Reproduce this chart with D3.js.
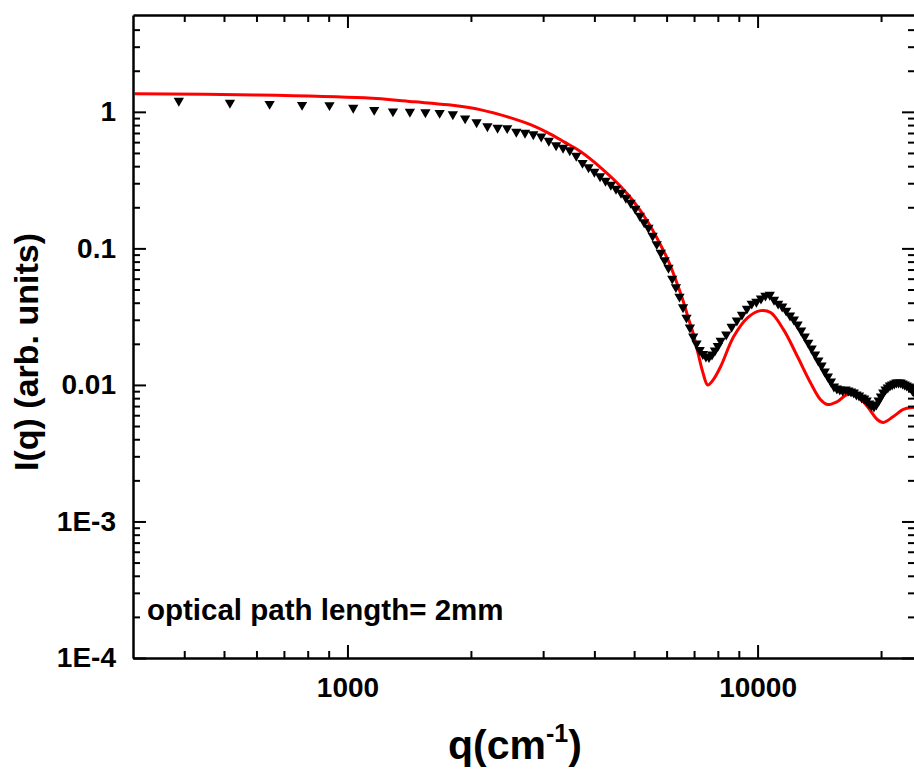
<!DOCTYPE html>
<html lang="en">
<head>
<meta charset="utf-8">
<title>I(q) vs q</title>
<script src="https://d3js.org/d3.v7.min.js"></script>
<style>
  body { margin: 0; background: #fff; }
  svg { display: block; font-family: "Liberation Sans", Arial, sans-serif; font-weight: bold; }
</style>
</head>
<body>
<script>
// fit curve (red line)
const fitQ = [303, 594, 1100, 1455, 1762, 2118, 2547, 2805, 3084, 3373, 3707, 4150, 4643, 4992, 5398,
  5712, 6040, 6315, 6570, 6761, 6955, 7152, 7356, 7557, 7778, 8128, 8745, 9462, 10166, 10759, 11570,
  12510, 13450, 14230, 14800, 15660, 16560, 17510, 18520, 19580, 20260, 21430, 22660, 23960, 24300];
const fitI = [1.354, 1.331, 1.266, 1.184, 1.125, 1.034, 0.889, 0.803, 0.702, 0.603, 0.510, 0.389, 0.283, 0.2196, 0.1567,
  0.1158, 0.0827, 0.0590, 0.0421, 0.0316, 0.0242, 0.01725, 0.01233, 0.0100, 0.0108, 0.01364, 0.0226, 0.0311, 0.0350, 0.0339, 0.0254,
  0.01614, 0.01042, 0.00782, 0.00719, 0.00756, 0.00851, 0.00823, 0.00695, 0.00558, 0.00531, 0.00587, 0.00661, 0.00684, 0.00686];

// measured data (triangles)
const dataQ = [388, 517, 646, 775, 904, 1033, 1162, 1291, 1420, 1549, 1678, 1807, 1936, 2065, 2194, 2323, 2452, 2581, 2710,
  2839, 2968, 3097, 3226, 3355, 3484, 3613, 3742, 3871, 4000, 4129, 4258, 4387, 4516, 4645, 4774, 4903, 5032, 5161, 5290,
  5419, 5548, 5677, 5806, 5935, 6064, 6193, 6322, 6451, 6580, 6709, 6838, 6967, 7096, 7225, 7354, 7483, 7612, 7741, 7870,
  7999, 8128,
  8386, 8644, 8902, 9160, 9418, 9676, 9934, 10192, 10450, 10708, 10966, 11224, 11482, 11740, 11998, 12256, 12514, 12772,
  13030, 13288, 13546, 13804, 14062, 14320, 14578, 14836, 15094, 15352, 15610, 15868, 16126, 16384, 16642, 16900, 17158,
  17416, 17674, 17932, 18190, 18448, 18706, 18964, 19222, 19480, 19738, 19996, 20254, 20512, 20770, 21028, 21286, 21544,
  21802, 22060, 22318, 22576, 22834, 23092, 23350, 23608, 23866, 24124];
const dataI = [1.204, 1.164, 1.144, 1.125, 1.12, 1.070, 1.034, 1.008, 1.0, 0.992, 0.983, 0.959, 0.896, 0.838, 0.783, 0.764, 0.760, 0.714, 0.702,
  0.685, 0.660, 0.614, 0.569, 0.545, 0.523, 0.477, 0.423, 0.393, 0.364, 0.337, 0.313, 0.292, 0.273, 0.2556, 0.235, 0.216, 0.1952, 0.1734, 0.1555,
  0.1417, 0.1239, 0.1074, 0.0930, 0.0820, 0.0722, 0.0600, 0.0520, 0.0443, 0.0371, 0.0311, 0.0263, 0.0226, 0.0201, 0.0180, 0.01683, 0.01614, 0.0160, 0.01668, 0.01786,
  0.01927, 0.0211,
  0.0234, 0.0267, 0.0296, 0.0327, 0.0362, 0.0394, 0.0407, 0.0429, 0.0451, 0.0458, 0.0421, 0.0394, 0.0375, 0.0350, 0.0322, 0.0301, 0.0277, 0.0250,
  0.0226, 0.0204, 0.01846, 0.01668, 0.01508, 0.01386, 0.01253, 0.01151, 0.01059, 0.00973, 0.00941, 0.00925, 0.00910, 0.00925, 0.00910, 0.00895, 0.00880,
  0.00851, 0.00837, 0.00809, 0.00796, 0.00769, 0.00731, 0.00707, 0.00695, 0.00719, 0.00769, 0.00823, 0.00880, 0.00925, 0.00957, 0.00990, 0.01007, 0.01024,
  0.01042, 0.01042, 0.01042, 0.01024, 0.01007, 0.00990, 0.00973, 0.00957, 0.00910, 0.00880];

// ticks
const yMajor = [1e-4, 1e-3, 0.01, 0.1, 1];
const yLabels = ["1E-4", "1E-3", "0.01", "0.1", "1"];
const yMinor = [2e-4, 3e-4, 4e-4, 5e-4, 6e-4, 7e-4, 8e-4, 9e-4, 2e-3, 3e-3, 4e-3, 5e-3, 6e-3, 7e-3, 8e-3, 9e-3,
  0.02, 0.03, 0.04, 0.05, 0.06, 0.07, 0.08, 0.09, 0.2, 0.3, 0.4, 0.5, 0.6, 0.7, 0.8, 0.9, 2, 3, 4];
const xMajor = [1000, 10000];
const xMinor = [400, 500, 600, 700, 800, 900, 2000, 3000, 4000, 5000, 6000, 7000, 8000, 9000, 20000];

const w = 914, h = 769;
const padL = 133, padR = 915, padT = 15, padB = 658;

const x = d3.scaleLog().domain([300, 24200]).range([padL, padR]);
const y = d3.scaleLog().domain([1e-4, 5.12]).range([padB, padT]);

const svg = d3.select("body").append("svg")
  .attr("width", w)
  .attr("height", h);

svg.append("defs").append("clipPath").attr("id", "plot")
  .append("rect").attr("x", padL).attr("y", padT).attr("width", padR - padL).attr("height", padB - padT);

// fit line
const line = d3.line()
  .x((d, i) => x(fitQ[i]))
  .y((d, i) => y(fitI[i]))
  .curve(d3.curveCatmullRom.alpha(0.5));

svg.append("path")
  .datum(fitQ)
  .attr("clip-path", "url(#plot)")
  .attr("d", line)
  .attr("fill", "none")
  .attr("stroke", "#ff0000")
  .attr("stroke-width", 3);

// data triangles
const tri = d3.symbol().type(d3.symbolTriangle).size(46);
svg.append("g")
  .attr("clip-path", "url(#plot)")
  .selectAll("path")
  .data(dataQ)
  .enter()
  .append("path")
  .attr("d", tri)
  .attr("transform", (d, i) => "translate(" + x(d) + "," + y(dataI[i]) + ") rotate(180)")
  .attr("fill", "#000");

// axes
function styleAxis(g) {
  g.selectAll(".domain").attr("stroke", "#000").attr("stroke-width", 2.5);
  g.selectAll(".tick line").attr("stroke", "#000").attr("stroke-width", 2);
  g.selectAll(".tick text").attr("font-size", 28).attr("font-weight", "bold").attr("fill", "#000")
    .attr("font-family", "'Liberation Sans', Arial, sans-serif");
}

// bottom
svg.append("g").attr("transform", "translate(0," + padB + ")")
  .call(d3.axisBottom(x).tickValues(xMinor).tickSize(-7).tickFormat("")).call(styleAxis)
  .select(".domain").remove();
svg.append("g").attr("transform", "translate(0," + padB + ")")
  .call(d3.axisBottom(x).tickValues(xMajor).tickSizeInner(-13).tickSizeOuter(0).tickPadding(19).tickFormat(d3.format("d")))
  .call(styleAxis);

// top
svg.append("g").attr("transform", "translate(0," + padT + ")")
  .call(d3.axisTop(x).tickValues(xMinor).tickSize(-7).tickFormat("")).call(styleAxis)
  .select(".domain").remove();
svg.append("g").attr("transform", "translate(0," + padT + ")")
  .call(d3.axisTop(x).tickValues(xMajor).tickSizeInner(-13).tickSizeOuter(0).tickFormat(""))
  .call(styleAxis);

// left
svg.append("g").attr("transform", "translate(" + padL + ",0)")
  .call(d3.axisLeft(y).tickValues(yMinor).tickSize(-7).tickFormat("")).call(styleAxis)
  .select(".domain").remove();
svg.append("g").attr("transform", "translate(" + padL + ",0)")
  .call(d3.axisLeft(y).tickValues(yMajor).tickSizeInner(-13).tickSizeOuter(0).tickPadding(17)
    .tickFormat((d, i) => yLabels[i]))
  .call(styleAxis);

// right
svg.append("g").attr("transform", "translate(" + padR + ",0)")
  .call(d3.axisRight(y).tickValues(yMinor).tickSize(-7).tickFormat("")).call(styleAxis)
  .select(".domain").remove();
svg.append("g").attr("transform", "translate(" + padR + ",0)")
  .call(d3.axisRight(y).tickValues(yMajor).tickSizeInner(-13).tickSizeOuter(0).tickFormat(""))
  .call(styleAxis);

// labels
svg.append("text")
  .attr("transform", "translate(38,352) rotate(-90)")
  .attr("text-anchor", "middle")
  .attr("font-size", 34)
  .text("I(q) (arb. units)");

const xl = svg.append("text")
  .attr("x", 515)
  .attr("y", 759)
  .attr("text-anchor", "middle")
  .attr("font-size", 41);
xl.append("tspan").text("q(cm");
xl.append("tspan").attr("dy", -17).attr("font-size", 25).text("-1");
xl.append("tspan").attr("dy", 17).text(")");

svg.append("text")
  .attr("x", 147)
  .attr("y", 620)
  .attr("font-size", 29.5)
  .text("optical path length= 2mm");
</script>
</body>
</html>
